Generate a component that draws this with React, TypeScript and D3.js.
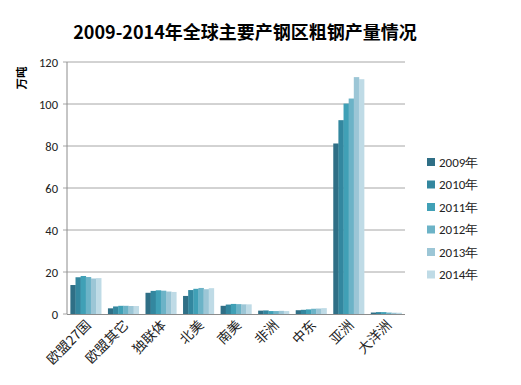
import React from 'react'
import * as d3 from 'd3'

const regions = ['欧盟27国', '欧盟其它', '独联体', '北美', '南美', '非洲', '中东', '亚洲', '大洋洲']
const years = ['2009年', '2010年', '2011年', '2012年', '2013年', '2014年']

// values per year, one entry per region
const y2009 = [13.8, 2.7, 10.1, 8.6, 3.9, 1.6, 1.8, 81.2, 0.7]
const y2010 = [17.5, 3.6, 11.0, 11.4, 4.5, 1.7, 2.0, 92.3, 0.9]
const y2011 = [18.1, 3.9, 11.3, 12.0, 4.8, 1.4, 2.2, 100.2, 0.9]
const y2012 = [17.6, 3.9, 11.1, 12.4, 4.7, 1.4, 2.5, 102.6, 0.7]
const y2013 = [16.9, 3.8, 10.7, 11.8, 4.6, 1.5, 2.6, 112.8, 0.6]
const y2014 = [17.1, 3.8, 10.5, 12.3, 4.6, 1.4, 2.8, 111.8, 0.6]
const series = [y2009, y2010, y2011, y2012, y2013, y2014]

const yTicks = [0, 20, 40, 60, 80, 100, 120]
const colors = ['#2f6f86', '#33879f', '#40a0b6', '#6cb3c7', '#9cc6d6', '#bfdbe6']

const W = 521
const H = 385
const margin = { left: 67, right: 116, top: 62, bottom: 71 }

export default function App() {
  const x = d3
    .scaleBand()
    .domain(regions)
    .range([margin.left, W - margin.right])
    .paddingInner(0.18)
    .paddingOuter(0.09)
  const inner = d3
    .scaleBand()
    .domain(years)
    .range([0, x.bandwidth()])
  const y = d3
    .scaleLinear()
    .domain([0, 120])
    .range([H - margin.bottom, margin.top])

  const cjk = '"Noto Sans CJK SC", sans-serif'
  const latin = 'Calibri, Carlito, "Open Sans", "Noto Sans", sans-serif'

  return (
    <svg
      width={W}
      height={H}
      style={{ position: 'absolute', left: 0, top: 0, background: '#fff' }}
    >
      <text
        x={245}
        y={39}
        textAnchor="middle"
        fontFamily={cjk}
        fontWeight="bold"
        fontSize={18}
        fill="#000"
      >
        2009-2014年全球主要产钢区粗钢产量情况
      </text>

      {/* gridlines */}
      {yTicks.map(t => (
        <g key={t}>
          <line
            x1={margin.left - 4}
            x2={t === 0 ? margin.left : W - margin.right}
            y1={y(t)}
            y2={y(t)}
            stroke="#a6a6a6"
            strokeWidth={1}
          />
          <text
            x={margin.left - 9}
            y={y(t) + 4.5}
            textAnchor="end"
            fontFamily={latin}
            fontSize={12.5}
            fill="#222"
          >
            {t}
          </text>
        </g>
      ))}

      {/* bars */}
      {series.map((vals, si) =>
        vals.map((v, ci) => (
          <rect
            key={si + '-' + ci}
            x={(x(regions[ci]) as number) + (inner(years[si]) as number)}
            y={y(v)}
            width={inner.bandwidth() + 0.3}
            height={y(0) - y(v)}
            fill={colors[si]}
          />
        ))
      )}

      {/* axes lines */}
      <line
        x1={margin.left}
        x2={margin.left}
        y1={margin.top}
        y2={y(0)}
        stroke="#8c8c8c"
      />
      <line
        x1={margin.left}
        x2={W - margin.right}
        y1={y(0) + 0.5}
        y2={y(0) + 0.5}
        stroke="#8c8c8c"
      />

      {/* category labels */}
      {regions.map(r => {
        const cx = (x(r) as number) + x.bandwidth() / 2 + 6
        const cy = y(0) + 12
        return (
          <text
            key={r}
            transform={`translate(${cx},${cy}) rotate(-45)`}
            textAnchor="end"
            fontFamily={cjk}
            fontSize={13.5}
            fill="#222"
          >
            {r}
          </text>
        )
      })}

      {/* y axis title */}
      <text
        transform="translate(26,78) rotate(-90)"
        textAnchor="middle"
        fontFamily={cjk}
        fontWeight="bold"
        fontSize={11.5}
        fill="#000"
      >
        万吨
      </text>

      {/* legend */}
      {years.map((yr, i) => (
        <g key={yr} transform={`translate(427,${162 + i * 22.5})`}>
          <rect x={0} y={-4} width={8} height={8} fill={colors[i]} />
          <text
            x={12}
            y={4.5}
            fontFamily={latin}
            fontSize={13}
            fill="#222"
          >
            {yr}
          </text>
        </g>
      ))}
    </svg>
  )
}
